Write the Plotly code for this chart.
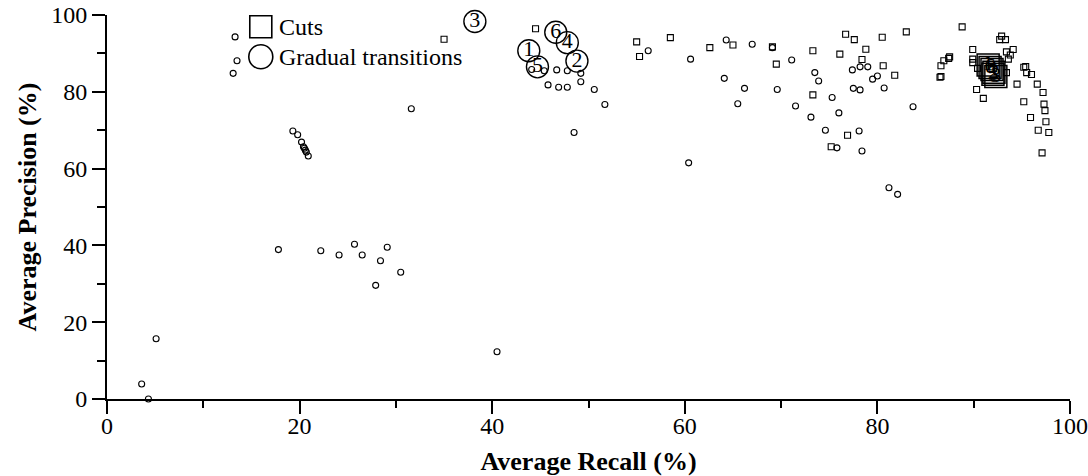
import plotly.graph_objects as go

# Gradual transitions (small circles)
grad_recall = [3.6, 4.3, 5.1, 13.3, 13.5, 13.1,
               17.8, 22.2, 24.1, 25.7, 26.5, 29.1, 28.4, 30.5, 27.9,
               19.3, 19.8, 20.2, 20.4, 20.5, 20.6, 20.7, 20.9,
               31.6, 40.5,
               44.1, 45.4, 46.7, 47.8, 49.2, 49.2, 45.8, 46.9, 47.8, 50.6, 51.7, 48.5,
               56.2, 60.6, 64.3, 67.0, 69.1, 71.1, 64.1, 66.2, 69.6, 65.5, 71.5,
               73.5, 73.9, 73.1, 74.6, 60.4, 75.3, 76.0, 75.8,
               77.4, 78.2, 79.0, 80.0, 79.5, 77.5, 78.2, 80.7, 78.1, 78.4, 83.7,
               81.2, 82.1]
grad_precision = [3.9, 0.0, 15.7, 94.3, 88.1, 84.8,
                  38.9, 38.6, 37.5, 40.3, 37.5, 39.5, 36.0, 33.0, 29.6,
                  69.8, 68.8, 66.9, 65.7, 65.3, 64.8, 64.3, 63.3,
                  75.6, 12.3,
                  85.8, 85.5, 85.7, 85.5, 84.8, 82.6, 81.8, 81.2, 81.2, 80.6, 76.7, 69.4,
                  90.7, 88.5, 93.5, 92.4, 91.5, 88.3, 83.5, 80.9, 80.6, 76.9, 76.3,
                  85.0, 82.8, 73.4, 70.0, 61.5, 78.5, 74.5, 65.4,
                  85.7, 86.5, 86.5, 84.1, 83.3, 80.9, 80.5, 81.0, 69.8, 64.6, 76.1,
                  55.0, 53.3]

# Cuts (small squares)
cut_recall = [35.0, 44.5,
              55.0, 55.3, 58.5, 62.6, 65.0, 69.1, 69.5, 73.3, 73.3, 75.2,
              76.7, 77.6, 80.5, 83.0, 78.8, 76.1, 78.4, 80.6, 81.8, 88.8,
              86.5, 86.6, 86.6, 86.9, 87.4, 87.5, 76.9,
              89.9, 92.9, 92.7, 93.3, 93.4, 94.1, 93.8, 93.6, 93.4,
              89.9, 89.9, 90.4,
              90.3, 91.0, 94.5, 95.2, 95.4, 96.0, 95.5, 96.6, 97.2, 97.3,
              97.4, 97.5, 97.8, 96.7, 95.2, 95.9, 97.1]
cut_precision = [93.7, 96.4,
                 93.0, 89.2, 94.1, 91.5, 92.2, 91.7, 87.2, 90.7, 79.2, 65.7,
                 95.0, 93.6, 94.2, 95.6, 91.1, 89.8, 88.4, 86.8, 84.3, 96.9,
                 83.8, 84.0, 86.8, 88.1, 88.7, 89.1, 68.7,
                 91.0, 94.5, 93.6, 93.6, 90.4, 91.0, 89.6, 88.5, 85.0,
                 88.5, 87.6, 86.1,
                 80.6, 78.3, 82.0, 86.4, 86.6, 84.5, 85.0, 82.0, 79.8, 76.8,
                 75.1, 72.2, 69.4, 70.0, 77.4, 73.3, 64.1]

# Highlighted (numbered) results
grad_hl_recall = [43.8, 48.8, 38.2, 47.8, 44.7, 46.6]
grad_hl_precision = [90.7, 88.0, 98.3, 92.8, 86.5, 95.5]
grad_hl_labels = ["1", "2", "3", "4", "5", "6"]

cut_hl_recall = [91.5, 92.1, 92.3, 91.9, 92.0, 91.7]
cut_hl_precision = [87.0, 85.1, 84.0, 85.8, 84.6, 86.3]
cut_hl_labels = ["1", "2", "3", "4", "5", "6"]

FONT = "Liberation Serif, Times New Roman, serif"

fig = go.Figure()

fig.add_trace(go.Scatter(
    x=grad_recall, y=grad_precision, mode="markers", cliponaxis=False,
    marker=dict(symbol="circle-open", size=6, color="black", line=dict(width=1.1)),
    showlegend=False))
fig.add_trace(go.Scatter(
    x=cut_recall, y=cut_precision, mode="markers", cliponaxis=False,
    marker=dict(symbol="square-open", size=6, color="black", line=dict(width=1.1)),
    showlegend=False))
fig.add_trace(go.Scatter(
    x=cut_hl_recall, y=cut_hl_precision, mode="markers+text", cliponaxis=False,
    text=cut_hl_labels, textposition="middle center",
    textfont=dict(family=FONT, size=22, color="black"),
    marker=dict(symbol="square-open", size=22, color="black", line=dict(width=1.5)),
    showlegend=False))
fig.add_trace(go.Scatter(
    x=grad_hl_recall, y=grad_hl_precision, mode="markers+text", cliponaxis=False,
    text=grad_hl_labels, textposition="middle center",
    textfont=dict(family=FONT, size=22, color="black"),
    marker=dict(symbol="circle-open", size=22, color="black", line=dict(width=1.4)),
    showlegend=False))

# Legend drawn manually (large symbols)
fig.add_shape(type="rect", xref="paper", yref="paper", xsizemode="pixel", ysizemode="pixel",
              xanchor=0.1597, yanchor=0.9695, x0=-11, x1=11, y0=-11, y1=11,
              line=dict(color="black", width=1.6))
fig.add_shape(type="circle", xref="paper", yref="paper", xsizemode="pixel", ysizemode="pixel",
              xanchor=0.1597, yanchor=0.8913, x0=-12, x1=12, y0=-12, y1=12,
              line=dict(color="black", width=1.6))
fig.add_annotation(text="Cuts", xref="paper", yref="paper", x=0.1765, y=0.9695,
                   xanchor="left", yanchor="middle", showarrow=False,
                   font=dict(family=FONT, size=24, color="black"))
fig.add_annotation(text="Gradual transitions", xref="paper", yref="paper", x=0.1765, y=0.8913,
                   xanchor="left", yanchor="middle", showarrow=False,
                   font=dict(family=FONT, size=24, color="black"))

axis_common = dict(
    range=[0, 100], dtick=20, showgrid=False, zeroline=False,
    showline=True, linecolor="black", linewidth=2,
    ticks="outside", ticklen=13, tickwidth=2, tickcolor="black",
    tickfont=dict(family=FONT, size=24, color="black"),
)

fig.update_xaxes(**axis_common, ticklabelstandoff=-9,
                 minor=dict(dtick=10, ticks="outside", ticklen=7, tickwidth=2, tickcolor="black"),
                 title=dict(text="<b>Average Recall (%)</b>", standoff=18,
                            font=dict(family=FONT, size=26, color="black")))
fig.update_yaxes(**axis_common,
                 minor=dict(dtick=10, ticks="outside", ticklen=8, tickwidth=2, tickcolor="black"),
                 title=dict(text="<b>Average Precision (%)</b>", standoff=7,
                            font=dict(family=FONT, size=26, color="black")))

fig.update_layout(
    width=1088, height=476,
    margin=dict(l=107, r=18, t=15, b=77, autoexpand=False),
    plot_bgcolor="white", paper_bgcolor="white",
    font=dict(family=FONT, color="black"),
)

fig.write_html("out.html")
